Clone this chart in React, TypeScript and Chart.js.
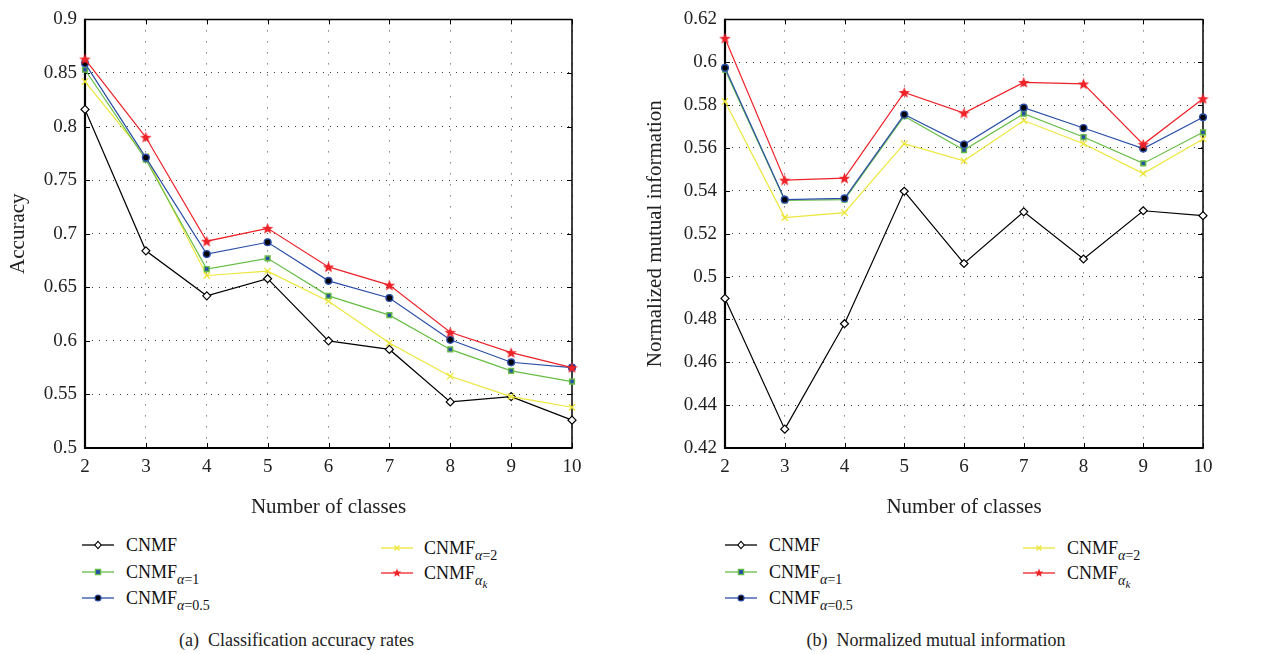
import React, { useEffect, useRef } from 'react';
import { Chart, registerables } from 'chart.js';

Chart.register(...registerables);

// ---------- data ----------
const classes = ['2', '3', '4', '5', '6', '7', '8', '9', '10'];

const accCNMF = [0.816, 0.684, 0.642, 0.658, 0.600, 0.592, 0.543, 0.548, 0.526];
const accAlpha1 = [0.853, 0.769, 0.667, 0.677, 0.642, 0.624, 0.592, 0.572, 0.562];
const accAlpha05 = [0.859, 0.771, 0.681, 0.692, 0.656, 0.640, 0.601, 0.580, 0.575];
const accAlpha2 = [0.842, 0.772, 0.661, 0.665, 0.637, 0.598, 0.567, 0.548, 0.538];
const accAlphaK = [0.863, 0.790, 0.693, 0.705, 0.669, 0.652, 0.608, 0.589, 0.575];

const nmiCNMF = [0.4898, 0.4288, 0.4780, 0.5398, 0.5061, 0.5302, 0.5082, 0.5307, 0.5284];
const nmiAlpha1 = [0.5965, 0.5355, 0.5359, 0.5748, 0.5590, 0.5760, 0.5651, 0.5528, 0.5673];
const nmiAlpha05 = [0.5974, 0.5359, 0.5365, 0.5756, 0.5616, 0.5788, 0.5693, 0.5597, 0.5743];
const nmiAlpha2 = [0.5817, 0.5275, 0.5298, 0.5620, 0.5540, 0.5728, 0.5620, 0.5481, 0.5642];
const nmiAlphaK = [0.6112, 0.5450, 0.5459, 0.5859, 0.5763, 0.5906, 0.5899, 0.5617, 0.5830];

const accTicks = [0.5, 0.55, 0.6, 0.65, 0.7, 0.75, 0.8, 0.85, 0.9];
const nmiTicks = [0.42, 0.44, 0.46, 0.48, 0.5, 0.52, 0.54, 0.56, 0.58, 0.6, 0.62];

const seriesNames = ['CNMF', 'CNMF α=1', 'CNMF α=0.5', 'CNMF α=2', 'CNMF αk'];

// ---------- styles ----------
const FONT = "'Liberation Serif', 'DejaVu Serif', serif";
const C_BLACK = '#000000';
const C_GREEN = '#66bd45';
const C_BLUE = '#2a4ea6';
const C_YELLOW = '#ede63a';
const C_RED = '#ee2229';

function starPts(cx: number, cy: number, R: number, r: number) {
  const pts: [number, number][] = [];
  for (let i = 0; i < 10; i++) {
    const a = -Math.PI / 2 + (i * Math.PI) / 5;
    const rr = i % 2 === 0 ? R : r;
    pts.push([cx + rr * Math.cos(a), cy + rr * Math.sin(a)]);
  }
  return pts;
}

function makeStarCanvas() {
  const c = document.createElement('canvas');
  c.width = 13;
  c.height = 13;
  const g = c.getContext('2d')!;
  g.fillStyle = C_RED;
  g.beginPath();
  starPts(6.5, 7, 6, 2.6).forEach(([x, y], i) => (i ? g.lineTo(x, y) : g.moveTo(x, y)));
  g.closePath();
  g.fill();
  return c;
}

const framePlugin = {
  id: 'frameBox',
  beforeDatasetsDraw(chart: any) {
    const { ctx, chartArea, scales } = chart;
    const { left, right, top, bottom } = chartArea;
    const seg = (x1: number, y1: number, x2: number, y2: number) => {
      ctx.beginPath();
      ctx.moveTo(x1, y1);
      ctx.lineTo(x2, y2);
      ctx.stroke();
    };
    ctx.save();
    ctx.strokeStyle = '#000';
    ctx.lineWidth = 1;
    const xs = scales.x;
    xs.ticks.forEach((_: any, i: number) => {
      const px = Math.round(xs.getPixelForTick(i)) + 0.5;
      seg(px, bottom, px, bottom - 5);
      seg(px, top, px, top + 5);
    });
    const ys = scales.y;
    ys.ticks.forEach((_: any, i: number) => {
      const py = Math.round(ys.getPixelForTick(i)) + 0.5;
      seg(left, py, left + 5, py);
      seg(right, py, right - 5, py);
    });
    ctx.lineWidth = 1.5;
    seg(left, top, right, top);
    seg(right, top, right, bottom);
    ctx.lineWidth = 2.2;
    seg(left, top - 0.7, left, bottom + 1);
    seg(left - 1, bottom, right + 0.7, bottom);
    ctx.restore();
  },
};

type PanelProps = {
  originX: number;
  width: number;
  plotLeft: number;
  plotRight: number;
  titlePad: number;
  yTitle: string;
  ticks: number[];
  series: number[][];
};

function LineChartPanel(p: PanelProps) {
  const ref = useRef<HTMLCanvasElement>(null);
  useEffect(() => {
    const star = makeStarCanvas();
    const height = 530;
    const plotTop = 15;
    const plotBottom = 448;
    const styles = [
      { borderColor: C_BLACK, pointStyle: 'rectRot', pointRadius: 4, pointBackgroundColor: '#fff', pointBorderColor: C_BLACK, pointBorderWidth: 1.2, order: 4 },
      { borderColor: C_GREEN, pointStyle: 'rect', pointRadius: 3.4, pointBackgroundColor: C_BLUE, pointBorderColor: C_GREEN, pointBorderWidth: 1.4, order: 2 },
      { borderColor: C_BLUE, pointStyle: 'circle', pointRadius: 3.4, pointBackgroundColor: '#000', pointBorderColor: C_BLUE, pointBorderWidth: 1.4, order: 1 },
      { borderColor: C_YELLOW, pointStyle: 'crossRot', pointRadius: 4.5, pointBackgroundColor: C_YELLOW, pointBorderColor: C_YELLOW, pointBorderWidth: 1.3, order: 3 },
      { borderColor: C_RED, pointStyle: star, pointRadius: 6, pointBackgroundColor: C_RED, pointBorderColor: C_RED, pointBorderWidth: 1, order: 0 },
    ];
    const chart = new Chart(ref.current!, {
      type: 'line',
      data: {
        labels: classes,
        datasets: p.series.map((d, i) => ({
          label: seriesNames[i],
          data: d,
          borderWidth: 1.2,
          tension: 0,
          fill: false,
          clip: false as any,
          ...styles[i],
        })) as any,
      },
      options: {
        responsive: false,
        animation: false,
        events: [],
        layout: { padding: { left: 0, top: plotTop, right: p.width - p.plotRight, bottom: 0 } },
        plugins: { legend: { display: false }, tooltip: { enabled: false } },
        scales: {
          x: {
            type: 'category',
            offset: false,
            afterFit: (s: any) => {
              s.height = height - plotBottom;
            },
            grid: { color: 'rgba(0,0,0,0.75)', lineWidth: 1, drawTicks: false },
            border: { display: false, dash: [1, 10] },
            ticks: { color: '#222', font: { family: FONT, size: 19 }, padding: 8, maxRotation: 0, autoSkip: false },
            title: { display: true, text: 'Number of classes', color: '#222', font: { family: FONT, size: 21 }, padding: { top: 0, bottom: 10 } },
          },
          y: {
            type: 'linear',
            min: p.ticks[0],
            max: p.ticks[p.ticks.length - 1],
            afterFit: (s: any) => {
              s.width = p.plotLeft;
            },
            afterBuildTicks: (s: any) => {
              s.ticks = p.ticks.map((v) => ({ value: v }));
            },
            grid: { color: 'rgba(0,0,0,0.75)', lineWidth: 1, drawTicks: false },
            border: { display: false, dash: [1, 6] },
            ticks: {
              color: '#222',
              font: { family: FONT, size: 19 },
              padding: 8,
              callback: (v: any) => String(+Number(v).toFixed(3)),
            },
            title: { display: true, text: p.yTitle, color: '#222', font: { family: FONT, size: 21 }, padding: { top: p.titlePad, bottom: 0 } },
          },
        },
      } as any,
      plugins: [framePlugin],
    });
    return () => chart.destroy();
  }, []);
  return (
    <canvas
      ref={ref}
      width={p.width}
      height={530}
      style={{ position: 'absolute', left: p.originX, top: 0, width: p.width, height: 530 }}
    />
  );
}

function Marker({ kind }: { kind: number }) {
  const cx = 16;
  const cy = 10;
  if (kind === 0)
    return <polygon points={`${cx},${cy - 3.6} ${cx + 3.2},${cy} ${cx},${cy + 3.6} ${cx - 3.2},${cy}`} fill="#fff" stroke={C_BLACK} strokeWidth={1.1} />;
  if (kind === 1) return <rect x={cx - 2.6} y={cy - 2.6} width={5.2} height={5.2} fill={C_BLUE} stroke={C_GREEN} strokeWidth={1.3} />;
  if (kind === 2) return <circle cx={cx} cy={cy} r={3} fill="#000" stroke={C_BLUE} strokeWidth={1.2} />;
  if (kind === 3)
    return (
      <path d={`M${cx - 2.5},${cy - 2.5}L${cx + 2.5},${cy + 2.5}M${cx - 2.5},${cy + 2.5}L${cx + 2.5},${cy - 2.5}`} stroke={C_YELLOW} strokeWidth={1.4} />
    );
  return <polygon points={starPts(cx, cy, 4.5, 2).map((q) => q.join(',')).join(' ')} fill={C_RED} />;
}

const lineColors = [C_BLACK, C_GREEN, C_BLUE, C_YELLOW, C_RED];

function LegendLabel({ kind }: { kind: number }) {
  const sub = { fontSize: 14, position: 'relative' as const, top: 6 };
  if (kind === 0) return <span>CNMF</span>;
  if (kind === 1)
    return (
      <span>
        CNMF<span style={sub}><i>α</i>=1</span>
      </span>
    );
  if (kind === 2)
    return (
      <span>
        CNMF<span style={sub}><i>α</i>=0.5</span>
      </span>
    );
  if (kind === 3)
    return (
      <span>
        CNMF<span style={sub}><i>α</i>=2</span>
      </span>
    );
  return (
    <span>
      CNMF
      <span style={sub}>
        <i>α</i>
        <i style={{ fontSize: 11, position: 'relative', top: 3 }}>k</i>
      </span>
    </span>
  );
}

function LegendItem({ kind, x, textX, cy }: { kind: number; x: number; textX: number; cy: number }) {
  return (
    <div style={{ position: 'absolute', left: x, top: cy - 10, height: 20, display: 'flex', alignItems: 'flex-start', whiteSpace: 'nowrap' }}>
      <svg width={32} height={20} style={{ display: 'block' }}>
        <line x1={0} y1={10} x2={32} y2={10} stroke={lineColors[kind]} strokeWidth={1.3} />
        <Marker kind={kind} />
      </svg>
      <div style={{ marginLeft: textX - x - 32, fontFamily: FONT, fontSize: 18, lineHeight: '20px', color: '#111' }}>
        <LegendLabel kind={kind} />
      </div>
    </div>
  );
}

function Legend({ x1, t1, x2, t2 }: { x1: number; t1: number; x2: number; t2: number }) {
  return (
    <>
      <LegendItem kind={0} x={x1} textX={t1} cy={545} />
      <LegendItem kind={1} x={x1} textX={t1} cy={571.5} />
      <LegendItem kind={2} x={x1} textX={t1} cy={598} />
      <LegendItem kind={3} x={x2} textX={t2} cy={547.5} />
      <LegendItem kind={4} x={x2} textX={t2} cy={573} />
    </>
  );
}

function Caption({ cx, text }: { cx: number; text: string }) {
  return (
    <div
      style={{
        position: 'absolute',
        left: cx - 200,
        width: 400,
        top: 630,
        height: 20,
        lineHeight: '20px',
        textAlign: 'center',
        fontFamily: FONT,
        fontSize: 18,
        color: '#222',
        whiteSpace: 'pre',
      }}
    >
      {text}
    </div>
  );
}

export default function App() {
  return (
    <div style={{ position: 'absolute', left: 0, top: 0, width: 1271, height: 654, background: '#fff', overflow: 'hidden' }}>
      <LineChartPanel
        originX={0}
        width={630}
        plotLeft={85}
        plotRight={572}
        titlePad={6}
        yTitle="Accuracy"
        ticks={accTicks}
        series={[accCNMF, accAlpha1, accAlpha05, accAlpha2, accAlphaK]}
      />
      <LineChartPanel
        originX={640}
        width={631}
        plotLeft={85}
        plotRight={563}
        titlePad={2.4}
        yTitle="Normalized mutual information"
        ticks={nmiTicks}
        series={[nmiCNMF, nmiAlpha1, nmiAlpha05, nmiAlpha2, nmiAlphaK]}
      />
      <Legend x1={82} t1={126} x2={381} t2={424} />
      <Legend x1={725} t1={769} x2={1023} t2={1067} />
      <Caption cx={296.5} text={'(a)  Classification accuracy rates'} />
      <Caption cx={936} text={'(b)  Normalized mutual information'} />
    </div>
  );
}
